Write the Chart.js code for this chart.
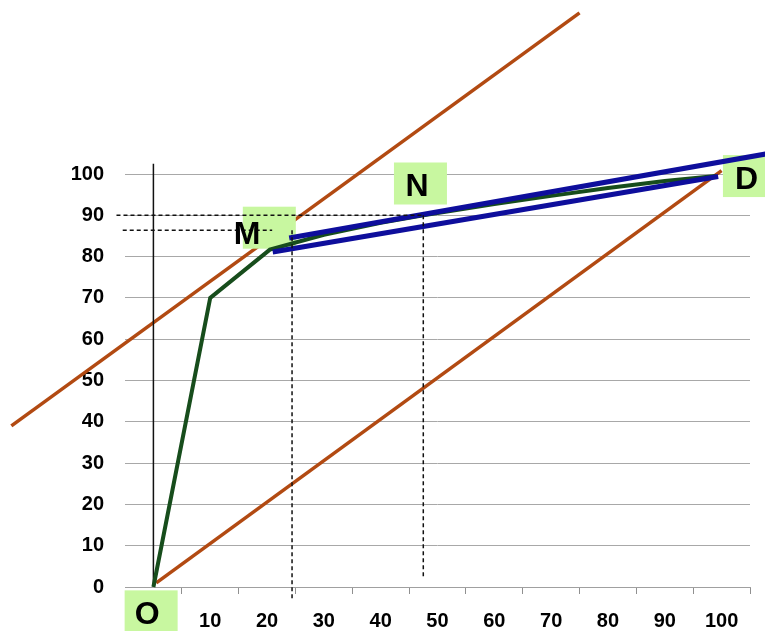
<!DOCTYPE html>
<html>
<head>
<meta charset="utf-8">
<script src="https://cdn.jsdelivr.net/npm/chart.js@4.4.0/dist/chart.umd.min.js"></script>
<style>
  html, body { margin: 0; padding: 0; background: #fff; }
  #wrap { width: 765px; height: 631px; }
</style>
</head>
<body>
<div id="wrap"><canvas id="chart" width="765" height="631"></canvas></div>
<script>
// Axis labels (category style: labels sit between the tick marks)
const xLabels = ['O', '10', '20', '30', '40', '50', '60', '70', '80', '90', '100'];
const xTickMarks = [-5, 5, 15, 25, 35, 45, 55, 65, 75, 85, 95, 105];
const yTicks = [0, 10, 20, 30, 40, 50, 60, 70, 80, 90, 100];

// Green curve O -> D
const curveX = [0, 10, 20.5, 30, 40, 47.5, 60, 70, 80, 90, 99];
const curveY = [0, 70, 81.7, 85.3, 88.2, 90, 92.7, 94.7, 96.6, 98.3, 99.5];

// Brown lines (slope 1)
const upperBrownX = [-25, 75];
const upperBrownY = [39, 139];
const lowerBrownX = [0.5, 100];
const lowerBrownY = [1, 100.8];

// Blue lines: tangent at N and chord to D
const tangentX = [23.9, 108];
const tangentY = [84.5, 104.9];
const chordX = [21, 99.4];
const chordY = [81.1, 99.4];

// Dashed guide lines for M and N
const mX = 24.4, mY = 86.4;
const nX = 47.5, nY = 90;
const guideHM_X = [-5.4, 20.9];
const guideHN_X = [-6.5, nX];
const guideVM_Y = [mY, -2.7];
const guideVN_Y = [nY, 2.2];

// Black vertical line at x = 0
const axisLineY = [0, 102.5];

function pts(xs, ys) {
    return xs.map((x, i) => ({ x: x, y: ys[i] }));
}

const brown = '#b24a12';
const green = '#174d1c';
const blue = '#0e0e9c';
const boxGreen = '#c8f7a0';

// Letter boxes, centres given in data units
const letterBoxes = [
    { text: 'O', box: [-0.4, -5.9], letter: [-1.1, -6.9] },
    { text: 'M', box: [20.4, 87.0], letter: [16.5, 85.2] },
    { text: 'N', box: [47.0, 97.7], letter: [46.4, 96.9] },
    { text: 'D', box: [104.9, 99.5], letter: [104.4, 98.6] }
];

const dashed = { borderColor: '#111', borderWidth: 1.5, borderDash: [4, 3] };

const datasets = [
    Object.assign({ data: pts([mX, mX], guideVM_Y) }, dashed),
    Object.assign({ data: pts([nX, nX], guideVN_Y) }, dashed),
    Object.assign({ data: pts(guideHM_X, [mY, mY]) }, dashed),
    Object.assign({ data: pts(guideHN_X, [nY, nY]) }, dashed),
    { data: pts(tangentX, tangentY), borderColor: blue, borderWidth: 5 },
    { data: pts(chordX, chordY), borderColor: blue, borderWidth: 5 },
    { data: pts(curveX, curveY), borderColor: green, borderWidth: 4 },
    { data: pts([0, 0], axisLineY), borderColor: '#111', borderWidth: 1.5 },
    { data: pts(upperBrownX, upperBrownY), borderColor: brown, borderWidth: 3.5 },
    { data: pts(lowerBrownX, lowerBrownY), borderColor: brown, borderWidth: 3.5 }
];
const lastBrownIndex = datasets.length - 2; // brown ones are drawn first

const letterPlugin = {
    id: 'letterBoxes',
    afterDatasetDraw(chart, args) {
        if (args.index !== lastBrownIndex) return;
        const ctx = chart.ctx;
        const xs = chart.scales.x, ys = chart.scales.y;
        ctx.save();
        ctx.fillStyle = boxGreen;
        letterBoxes.forEach(b => {
            const cx = xs.getPixelForValue(b.box[0]);
            const cy = ys.getPixelForValue(b.box[1]);
            ctx.fillRect(cx - 26.5, cy - 21, 53, 42);
        });
        ctx.restore();
    },
    afterDatasetsDraw(chart) {
        const ctx = chart.ctx;
        const xs = chart.scales.x, ys = chart.scales.y;
        ctx.save();
        ctx.fillStyle = '#000';
        ctx.font = 'bold 32px "Liberation Sans", Arial, sans-serif';
        ctx.textAlign = 'center';
        ctx.textBaseline = 'middle';
        letterBoxes.forEach(b => {
            ctx.fillText(b.text, xs.getPixelForValue(b.letter[0]), ys.getPixelForValue(b.letter[1]));
        });
        ctx.restore();
    }
};

const tickFont = { family: '"Liberation Sans", Arial, sans-serif', size: 20, weight: 'bold' };

new Chart(document.getElementById('chart'), {
    type: 'line',
    data: { datasets: datasets },
    options: {
        responsive: false,
        animation: false,
        clip: false,
        elements: {
            line: { tension: 0, fill: false },
            point: { radius: 0, hoverRadius: 0 }
        },
        datasets: { line: { clip: false, pointRadius: 0 } },
        layout: { padding: { top: 174, right: 15, left: 0, bottom: 0 } },
        plugins: {
            legend: { display: false },
            tooltip: { enabled: false }
        },
        scales: {
            x: {
                type: 'linear',
                min: -5,
                max: 105,
                afterBuildTicks: scale => {
                    scale.ticks = xTickMarks.map(v => ({ value: v }));
                },
                afterFit: scale => { scale.height = 44; },
                ticks: {
                    autoSkip: false,
                    maxRotation: 0,
                    padding: 15,
                    labelOffset: 28.4,
                    color: '#000',
                    font: tickFont,
                    callback: (value, index) => index === 0 ? '' : (xLabels[index] || '')
                },
                grid: {
                    drawOnChartArea: false,
                    tickLength: 7,
                    color: ctx => ctx.index === 0 ? 'rgba(0,0,0,0)' : '#909090'
                },
                border: { display: true, color: '#a0a0a0' }
            },
            y: {
                min: 0,
                max: 100,
                afterBuildTicks: scale => {
                    scale.ticks = yTicks.map(v => ({ value: v }));
                },
                afterFit: scale => { scale.width = 125; },
                ticks: {
                    padding: 21,
                    color: '#000',
                    font: tickFont
                },
                grid: { color: '#a8a8a8', drawTicks: false, tickLength: 0 },
                border: { display: false }
            }
        }
    },
    plugins: [letterPlugin]
});
</script>
</body>
</html>
